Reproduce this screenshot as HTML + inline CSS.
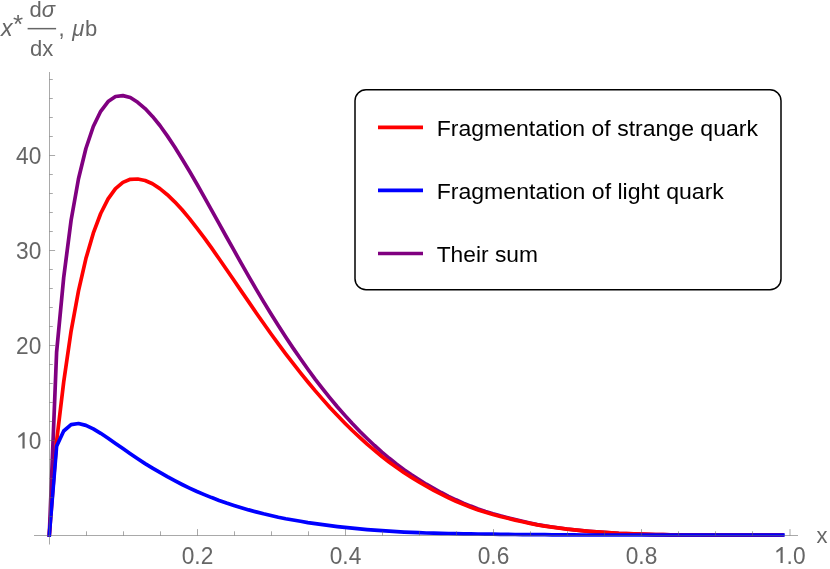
<!DOCTYPE html>
<html><head><meta charset="utf-8"><title>plot</title>
<style>
html,body{margin:0;padding:0;background:#fff;}
body{width:830px;height:569px;overflow:hidden;font-family:"Liberation Sans",sans-serif;}
svg{display:block;will-change:transform;}
svg text{font-family:"Liberation Sans",sans-serif;font-size:22px;}
</style></head><body>
<svg width="830" height="569" viewBox="0 0 830 569">
<rect width="830" height="569" fill="#ffffff"/>
<g fill="#666666">
<text transform="translate(197.5,563.9) scale(0.915,1)" style="font-size:24.8px" text-anchor="middle">0.2</text>
<text transform="translate(345.5,563.9) scale(0.915,1)" style="font-size:24.8px" text-anchor="middle">0.4</text>
<text transform="translate(493.5,563.9) scale(0.915,1)" style="font-size:24.8px" text-anchor="middle">0.6</text>
<text transform="translate(641.5,563.9) scale(0.915,1)" style="font-size:24.8px" text-anchor="middle">0.8</text>
<path d="M782.7,546.9 L781.2,546.9 L776.1,550.9 L776.8,552.8 L780.5,550.0 L780.5,563.1 L782.7,563.1 Z"/>
<text transform="translate(786.6,563.9) scale(0.915,1)" style="font-size:24.8px">.0</text>
<path d="M24.65,432.2 L23.15,432.2 L18.05,436.2 L18.75,438.1 L22.45,435.3 L22.45,448.4 L24.65,448.4 Z"/>
<text transform="translate(41.3,448.9) scale(0.915,1)" style="font-size:24.8px" text-anchor="end">0</text>
<text transform="translate(41.3,353.9) scale(0.915,1)" style="font-size:24.8px" text-anchor="end">20</text>
<text transform="translate(41.3,258.9) scale(0.915,1)" style="font-size:24.8px" text-anchor="end">30</text>
<text transform="translate(41.3,163.9) scale(0.915,1)" style="font-size:24.8px" text-anchor="end">40</text>
<text x="816.5" y="543.4">x</text>
<text x="1.0" y="35.5" font-style="italic" style="font-size:23.2px">x</text>
<text x="12.9" y="32.6" style="font-size:26px">*</text>
<text x="42.2" y="17.2" text-anchor="middle">d<tspan font-style="italic">σ</tspan></text>
<rect x="27.6" y="27.9" width="28.5" height="1.5"/>
<text x="41.7" y="56.3" text-anchor="middle">dx</text>
<text x="58.5" y="35.5">,</text>
<text x="72.3" y="35.5" font-style="italic">μ</text>
<text x="85" y="35.5">b</text>
</g>
<g fill="none" stroke-width="3.7" stroke-linejoin="round" stroke-linecap="square">
<polyline stroke="#800080" points="49.3,535.0 56.6,352.2 63.7,277.5 71.1,220.3 78.5,178.8 85.9,148.5 93.3,126.5 100.7,111.3 108.1,101.6 115.5,96.5 122.9,95.6 130.3,97.5 137.7,102.3 145.1,108.6 152.5,116.4 159.9,125.5 167.3,135.9 174.7,147.0 182.1,158.9 189.5,171.2 196.9,184.0 204.3,197.1 211.7,210.3 219.1,223.6 226.5,237.0 233.9,250.2 241.3,263.4 248.7,276.3 256.1,289.1 263.5,301.6 270.9,313.8 278.3,325.6 285.7,337.0 293.1,348.1 300.5,358.8 307.9,369.2 315.3,379.3 322.7,388.9 330.1,398.1 337.5,407.0 344.9,415.4 352.3,423.5 359.7,431.2 367.1,438.5 374.5,445.5 381.9,452.1 389.3,458.3 396.7,464.2 404.1,469.7 411.5,474.8 418.9,479.6 426.3,484.2 433.7,488.4 441.1,492.5 448.5,496.3 455.9,499.8 463.3,503.1 470.7,506.1 478.1,508.9 485.5,511.4 492.9,513.7 500.3,515.8 507.7,517.7 515.1,519.5 522.5,521.3 529.9,523.0 537.3,524.6 544.7,525.9 552.1,527.0 559.5,528.0 566.9,529.0 574.3,529.8 581.7,530.6 589.1,531.3 596.5,531.9 603.9,532.4 611.3,532.8 618.7,533.3 626.1,533.6 633.5,533.9 640.9,534.2 648.3,534.4 655.7,534.6 663.1,534.7 670.5,534.8 677.9,534.9 685.3,535.0 692.7,535.0 700.1,535.0 707.5,535.1 714.9,535.1 722.3,535.1 729.7,535.1 737.1,535.1 744.5,535.1 751.9,535.1 759.3,535.1 766.7,535.1 774.1,535.0 781.9,535.0"/>
<polyline stroke="#ff0000" points="49.3,535.0 56.6,441.4 63.7,382.0 71.1,331.1 78.5,290.8 85.9,258.6 93.3,233.2 100.7,213.5 108.1,198.9 115.5,188.6 122.9,182.4 130.3,179.3 137.7,179.0 145.1,180.5 152.5,183.8 159.9,188.6 167.3,194.7 174.7,201.8 182.1,209.8 189.5,218.6 196.9,228.1 204.3,237.9 211.7,248.2 219.1,258.8 226.5,269.5 233.9,280.3 241.3,291.1 248.7,301.9 256.1,312.7 263.5,323.3 270.9,333.7 278.3,343.9 285.7,353.8 293.1,363.4 300.5,372.8 307.9,382.0 315.3,390.9 322.7,399.4 330.1,407.7 337.5,415.6 344.9,423.2 352.3,430.5 359.7,437.4 367.1,444.1 374.5,450.4 381.9,456.5 389.3,462.2 396.7,467.6 404.1,472.7 411.5,477.4 418.9,481.9 426.3,486.2 433.7,490.3 441.1,494.1 448.5,497.8 455.9,501.2 463.3,504.3 470.7,507.2 478.1,509.9 485.5,512.3 492.9,514.5 500.3,516.5 507.7,518.3 515.1,520.1 522.5,521.8 529.9,523.4 537.3,524.9 544.7,526.1 552.1,527.2 559.5,528.2 566.9,529.1 574.3,529.9 581.7,530.6 589.1,531.3 596.5,531.9 603.9,532.4 611.3,532.8 618.7,533.3 626.1,533.6 633.5,533.9 640.9,534.2 648.3,534.4 655.7,534.6 663.1,534.7 670.5,534.8 677.9,534.9 685.3,535.0 692.7,535.0 700.1,535.0 707.5,535.1 714.9,535.1 722.3,535.1 729.7,535.1 737.1,535.1 744.5,535.1 751.9,535.1 759.3,535.1 766.7,535.1 774.1,535.0 781.9,535.0"/>
<polyline stroke="#0000ff" points="49.3,535.0 56.6,446.3 63.7,431.0 71.1,424.6 78.5,423.5 85.9,425.4 93.3,428.9 100.7,433.3 108.1,438.2 115.5,443.4 122.9,448.6 130.3,453.8 137.7,458.8 145.1,463.6 152.5,468.1 159.9,472.4 167.3,476.7 174.7,480.7 182.1,484.5 189.5,488.1 196.9,491.5 204.3,494.6 211.7,497.6 219.1,500.4 226.5,503.0 233.9,505.4 241.3,507.7 248.7,509.9 256.1,511.9 263.5,513.8 270.9,515.5 278.3,517.2 285.7,518.7 293.1,520.0 300.5,521.3 307.9,522.6 315.3,523.7 322.7,524.7 330.1,525.7 337.5,526.6 344.9,527.4 352.3,528.2 359.7,528.9 367.1,529.6 374.5,530.2 381.9,530.7 389.3,531.2 396.7,531.7 404.1,532.1 411.5,532.4 418.9,532.7 426.3,533.0 433.7,533.2 441.1,533.3 448.5,533.5 455.9,533.6 463.3,533.8 470.7,533.9 478.1,534.0 485.5,534.1 492.9,534.2 500.3,534.3 507.7,534.4 515.1,534.5 522.5,534.6 529.9,534.6 537.3,534.7 544.7,534.7 552.1,534.8 559.5,534.8 566.9,534.9 574.3,534.9 581.7,535.0 589.1,535.0 596.5,535.0 603.9,535.0 611.3,535.0 618.7,535.0 626.1,535.0 633.5,535.0 640.9,535.0 648.3,535.0 655.7,535.0 663.1,535.0 670.5,535.0 677.9,535.0 685.3,535.0 692.7,535.0 700.1,535.0 707.5,535.0 714.9,535.0 722.3,535.0 729.7,535.0 737.1,535.0 744.5,535.0 751.9,535.0 759.3,535.0 766.7,535.0 774.1,535.0 782.9,535.0"/>
</g>
<g stroke="#666666" stroke-opacity="0.56" stroke-width="1" fill="none">
<line x1="34" y1="535.5" x2="798" y2="535.5"/>
<line x1="49.5" y1="544.5" x2="49.5" y2="72"/>
<line x1="86.5" y1="535.5" x2="86.5" y2="531.3"/>
<line x1="123.5" y1="535.5" x2="123.5" y2="531.3"/>
<line x1="160.5" y1="535.5" x2="160.5" y2="531.3"/>
<line x1="197.5" y1="535.5" x2="197.5" y2="529.1"/>
<line x1="234.5" y1="535.5" x2="234.5" y2="531.3"/>
<line x1="271.5" y1="535.5" x2="271.5" y2="531.3"/>
<line x1="308.5" y1="535.5" x2="308.5" y2="531.3"/>
<line x1="345.5" y1="535.5" x2="345.5" y2="529.1"/>
<line x1="382.5" y1="535.5" x2="382.5" y2="531.3"/>
<line x1="419.5" y1="535.5" x2="419.5" y2="531.3"/>
<line x1="456.5" y1="535.5" x2="456.5" y2="531.3"/>
<line x1="493.5" y1="535.5" x2="493.5" y2="529.1"/>
<line x1="530.5" y1="535.5" x2="530.5" y2="531.3"/>
<line x1="567.5" y1="535.5" x2="567.5" y2="531.3"/>
<line x1="604.5" y1="535.5" x2="604.5" y2="531.3"/>
<line x1="641.5" y1="535.5" x2="641.5" y2="529.1"/>
<line x1="678.5" y1="535.5" x2="678.5" y2="531.3"/>
<line x1="715.5" y1="535.5" x2="715.5" y2="531.3"/>
<line x1="752.5" y1="535.5" x2="752.5" y2="531.3"/>
<line x1="790.0" y1="535.5" x2="790.0" y2="529.1"/>
<line x1="49.5" y1="516.5" x2="52.8" y2="516.5"/>
<line x1="49.5" y1="497.5" x2="52.8" y2="497.5"/>
<line x1="49.5" y1="478.5" x2="52.8" y2="478.5"/>
<line x1="49.5" y1="459.5" x2="52.8" y2="459.5"/>
<line x1="49.5" y1="440.5" x2="55.1" y2="440.5"/>
<line x1="49.5" y1="421.5" x2="52.8" y2="421.5"/>
<line x1="49.5" y1="402.5" x2="52.8" y2="402.5"/>
<line x1="49.5" y1="383.5" x2="52.8" y2="383.5"/>
<line x1="49.5" y1="364.5" x2="52.8" y2="364.5"/>
<line x1="49.5" y1="345.5" x2="55.1" y2="345.5"/>
<line x1="49.5" y1="326.5" x2="52.8" y2="326.5"/>
<line x1="49.5" y1="307.5" x2="52.8" y2="307.5"/>
<line x1="49.5" y1="288.5" x2="52.8" y2="288.5"/>
<line x1="49.5" y1="269.5" x2="52.8" y2="269.5"/>
<line x1="49.5" y1="250.5" x2="55.1" y2="250.5"/>
<line x1="49.5" y1="231.5" x2="52.8" y2="231.5"/>
<line x1="49.5" y1="212.5" x2="52.8" y2="212.5"/>
<line x1="49.5" y1="193.5" x2="52.8" y2="193.5"/>
<line x1="49.5" y1="174.5" x2="52.8" y2="174.5"/>
<line x1="49.5" y1="155.5" x2="55.1" y2="155.5"/>
<line x1="49.5" y1="136.5" x2="52.8" y2="136.5"/>
<line x1="49.5" y1="117.5" x2="52.8" y2="117.5"/>
<line x1="49.5" y1="98.5" x2="52.8" y2="98.5"/>
<line x1="49.5" y1="79.5" x2="52.8" y2="79.5"/>
</g>
<rect x="355" y="89.8" width="426" height="199.9" rx="11" ry="11" fill="#ffffff" stroke="#000000" stroke-width="1.5"/>
<g stroke-width="3.7" fill="none">
<line x1="378" y1="127.4" x2="423" y2="127.4" stroke="#ff0000"/>
<line x1="378" y1="190.3" x2="423" y2="190.3" stroke="#0000ff"/>
<line x1="378" y1="253.5" x2="423" y2="253.5" stroke="#800080"/>
</g>
<g fill="#000000">
<text transform="translate(436.7,135.7) scale(1.047,1)">Fragmentation of strange quark</text>
<text transform="translate(436.7,198.7) scale(1.049,1)">Fragmentation of light quark</text>
<text transform="translate(436.7,261.8) scale(1.036,1)">Their sum</text>
</g>
</svg>
</body></html>
